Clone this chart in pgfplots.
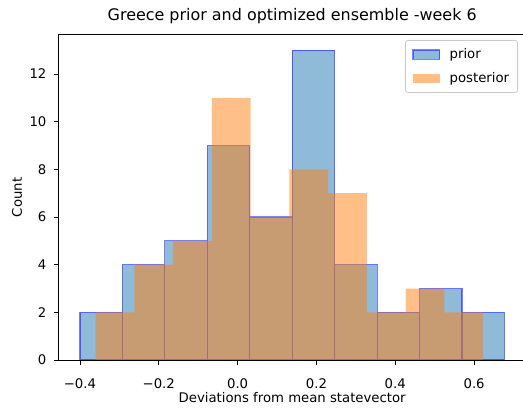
\documentclass[border=0pt]{standalone}
\usepackage{fontspec}
\setmainfont{DejaVu Sans}
\usepackage{pgfplots}
\pgfplotsset{compat=1.18}
\definecolor{cblue}{HTML}{1F77B4}
\definecolor{corange}{HTML}{FF7F0E}
\begin{document}
\begin{tikzpicture}
\path[use as bounding box] (-58.7bp,-48bp) rectangle (464.3bp,360bp);
\begin{axis}[
  scale only axis, width=467bp, height=325.3bp,
  xmin=-0.4539, xmax=0.7309, ymin=0, ymax=13.65,
  axis line style={black, line width=0.8bp},
  tick align=outside, xtick pos=left, ytick pos=left,
  major tick length=4.6bp,
  tick style={black, line width=0.8bp},
  xtick={-0.4,-0.2,0,0.2,0.4,0.6},
  xticklabels={−0.4,−0.2,0.0,0.2,0.4,0.6},
  ytick={0,2,4,6,8,10,12},
  yticklabels={0,2,4,6,8,10,12},
  ticklabel style={font=\fontsize{13.3}{16}\selectfont},
  xticklabel style={anchor=base, inner sep=0pt, yshift=-23.5bp},
  yticklabel style={anchor=east, inner sep=0pt, xshift=-7.5bp},
  xlabel={Deviations from mean statevector},
  ylabel={Count},
  label style={font=\fontsize{13.3}{16}\selectfont},
  xlabel style={at={(axis description cs:0.5,0)}, anchor=base, inner sep=0pt, yshift=-42.5bp},
  ylabel style={at={(axis description cs:-0.0786,0.5)}, anchor=base, inner sep=0pt},
  title={Greece prior and optimized ensemble -week 6},
  title style={at={(axis description cs:0.5,1)}, anchor=base, inner sep=0pt, yshift=8.7bp, font=\fontsize{16}{19}\selectfont},
  legend style={at={(0.9835,0.9837)}, anchor=north east,
    draw=black!20, line width=0.8bp, rounded corners=2.7bp,
    fill=white, fill opacity=0.8, text opacity=1, draw opacity=1,
    font=\fontsize{13.3}{16}\selectfont,
    inner xsep=7bp, inner ysep=7bp, row sep=9bp,
    nodes={inner sep=1.5bp},
    /tikz/every odd column/.append style={column sep=8bp}},
  legend cell align=left,
]
\addplot[ybar interval, forget plot, fill=cblue, draw=blue, fill opacity=0.5, draw opacity=0.5, line width=1.2bp]
coordinates {(-0.4000,2) (-0.2923,4) (-0.1846,5) (-0.0769,9) (0.0308,6) (0.1385,13) (0.2462,4) (0.3539,2) (0.4616,3) (0.5693,2) (0.6770,2)};
\addplot[ybar interval, forget plot, fill=corange, draw=none, fill opacity=0.5]
coordinates {(-0.3603,2) (-0.2620,4) (-0.1637,5) (-0.0654,11) (0.0329,6) (0.1312,8) (0.2295,7) (0.3278,2) (0.4261,3) (0.5244,2) (0.6227,2)};
\addlegendimage{legend image code/.code={\draw[sharp corners, fill=cblue, draw=blue, fill opacity=0.5, draw opacity=0.5, line width=1.2bp] (0bp,-4.6bp) rectangle (26.6bp,4.6bp);}}
\addlegendentry{prior}
\addlegendimage{legend image code/.code={\path[sharp corners, draw=none, fill=corange, fill opacity=0.5] (0bp,-4.6bp) rectangle (26.6bp,4.6bp);}}
\addlegendentry{posterior}
\end{axis}
\end{tikzpicture}
\end{document}
